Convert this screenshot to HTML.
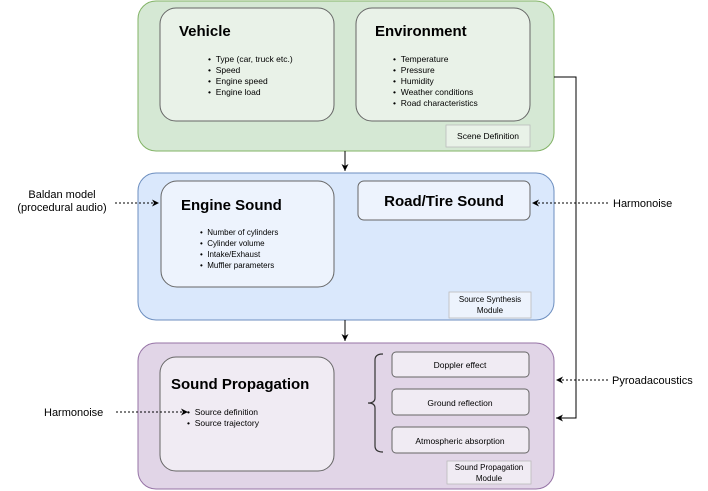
<!DOCTYPE html>
<html><head><meta charset="utf-8"><style>
body{margin:0;background:#fff}
svg{display:block;font-family:"Liberation Sans",Arial,sans-serif}
</style></head><body>
<svg width="708" height="491" viewBox="0 0 708 491" xmlns="http://www.w3.org/2000/svg">
<defs>
<marker id="a" markerWidth="8" markerHeight="8" refX="7" refY="4" orient="auto" markerUnits="userSpaceOnUse"><path d="M0,0.5 L7,4 L0,7.5 L2,4 z" fill="#000"/></marker>
</defs>
<!-- green -->
<rect x="138" y="1" width="416" height="150" rx="18" fill="#d5e8d4" stroke="#82b366"/>
<rect x="160" y="8" width="174" height="113" rx="16" fill="#e9f2e8" stroke="#666"/>
<rect x="356" y="8" width="174" height="113" rx="16" fill="#e9f2e8" stroke="#666"/>
<rect x="446" y="125" width="84" height="22" fill="#e9f2e8" stroke="#bbb" stroke-width="0.8"/>
<text x="179" y="36" font-size="15" font-weight="bold">Vehicle</text>
<text x="375" y="36" font-size="15" font-weight="bold">Environment</text>
<g font-size="8.5">
<text x="208" y="62">• &#160;Type (car, truck etc.)</text>
<text x="208" y="73">• &#160;Speed</text>
<text x="208" y="84">• &#160;Engine speed</text>
<text x="208" y="95">• &#160;Engine load</text>
<text x="393" y="62">• &#160;Temperature</text>
<text x="393" y="73">• &#160;Pressure</text>
<text x="393" y="84">• &#160;Humidity</text>
<text x="393" y="95">• &#160;Weather conditions</text>
<text x="393" y="106">• &#160;Road characteristics</text>
<text x="488" y="139" text-anchor="middle">Scene Definition</text>
</g>
<!-- blue -->
<rect x="138" y="173" width="416" height="147" rx="18" fill="#dae8fc" stroke="#6c8ebf"/>
<rect x="161" y="181" width="173" height="106" rx="16" fill="#edf3fd" stroke="#666"/>
<rect x="358" y="181" width="172" height="39" rx="6" fill="#edf3fd" stroke="#666"/>
<rect x="449" y="292" width="82" height="26" fill="#edf3fd" stroke="#bbb" stroke-width="0.8"/>
<text x="181" y="210" font-size="15" font-weight="bold">Engine Sound</text>
<text x="444" y="206" font-size="15" font-weight="bold" text-anchor="middle">Road/Tire Sound</text>
<g font-size="8">
<text x="200" y="235">• &#160;Number of cylinders</text>
<text x="200" y="246">• &#160;Cylinder volume</text>
<text x="200" y="257">• &#160;Intake/Exhaust</text>
<text x="200" y="268">• &#160;Muffler parameters</text>
<text x="490" y="302" text-anchor="middle">Source Synthesis</text>
<text x="490" y="313" text-anchor="middle">Module</text>
</g>
<!-- purple -->
<rect x="138" y="343" width="416" height="146" rx="18" fill="#e1d5e7" stroke="#9673a6"/>
<rect x="160" y="357" width="174" height="114" rx="16" fill="#f0ebf3" stroke="#666"/>
<rect x="392" y="352" width="137" height="25" rx="4" fill="#f0ebf3" stroke="#666"/>
<rect x="392" y="389" width="137" height="26" rx="4" fill="#f0ebf3" stroke="#666"/>
<rect x="392" y="427" width="137" height="26" rx="4" fill="#f0ebf3" stroke="#666"/>
<rect x="447" y="461" width="84" height="23" fill="#f0ebf3" stroke="#bbb" stroke-width="0.8"/>
<text x="171" y="389" font-size="15" font-weight="bold">Sound Propagation</text>
<path d="M383,354 Q375,354 375,360 L375,398 Q375,403 368,403 Q375,403 375,408 L375,446 Q375,452 383,452" fill="none" stroke="#333" stroke-width="1.2"/>
<g font-size="8.5">
<text x="460" y="368" text-anchor="middle">Doppler effect</text>
<text x="460" y="406" text-anchor="middle">Ground reflection</text>
<text x="460" y="444" text-anchor="middle">Atmospheric absorption</text>
<text x="187" y="415">• &#160;Source definition</text>
<text x="187" y="426">• &#160;Source trajectory</text>
</g>
<g font-size="8">
<text x="489" y="470" text-anchor="middle">Sound Propagation</text>
<text x="489" y="481" text-anchor="middle">Module</text>
</g>
<!-- connectors -->
<g stroke="#000" fill="none">
<line x1="345" y1="151" x2="345" y2="171" marker-end="url(#a)"/>
<line x1="345" y1="320" x2="345" y2="341" marker-end="url(#a)"/>
<polyline points="554,77 576,77 576,418 556,418" marker-end="url(#a)"/>
<g stroke-dasharray="2,2">
<line x1="115" y1="203" x2="159" y2="203" marker-end="url(#a)"/>
<line x1="608" y1="203" x2="532" y2="203" marker-end="url(#a)"/>
<line x1="608" y1="380" x2="556" y2="380" marker-end="url(#a)"/>
<line x1="116" y1="412" x2="188" y2="412" marker-end="url(#a)"/>
</g>
</g>
<g font-size="11">
<text x="62" y="198" text-anchor="middle">Baldan model</text>
<text x="62" y="211" text-anchor="middle">(procedural audio)</text>
<text x="613" y="207">Harmonoise</text>
<text x="612" y="384">Pyroadacoustics</text>
<text x="44" y="416">Harmonoise</text>
</g>
</svg>
</body></html>
